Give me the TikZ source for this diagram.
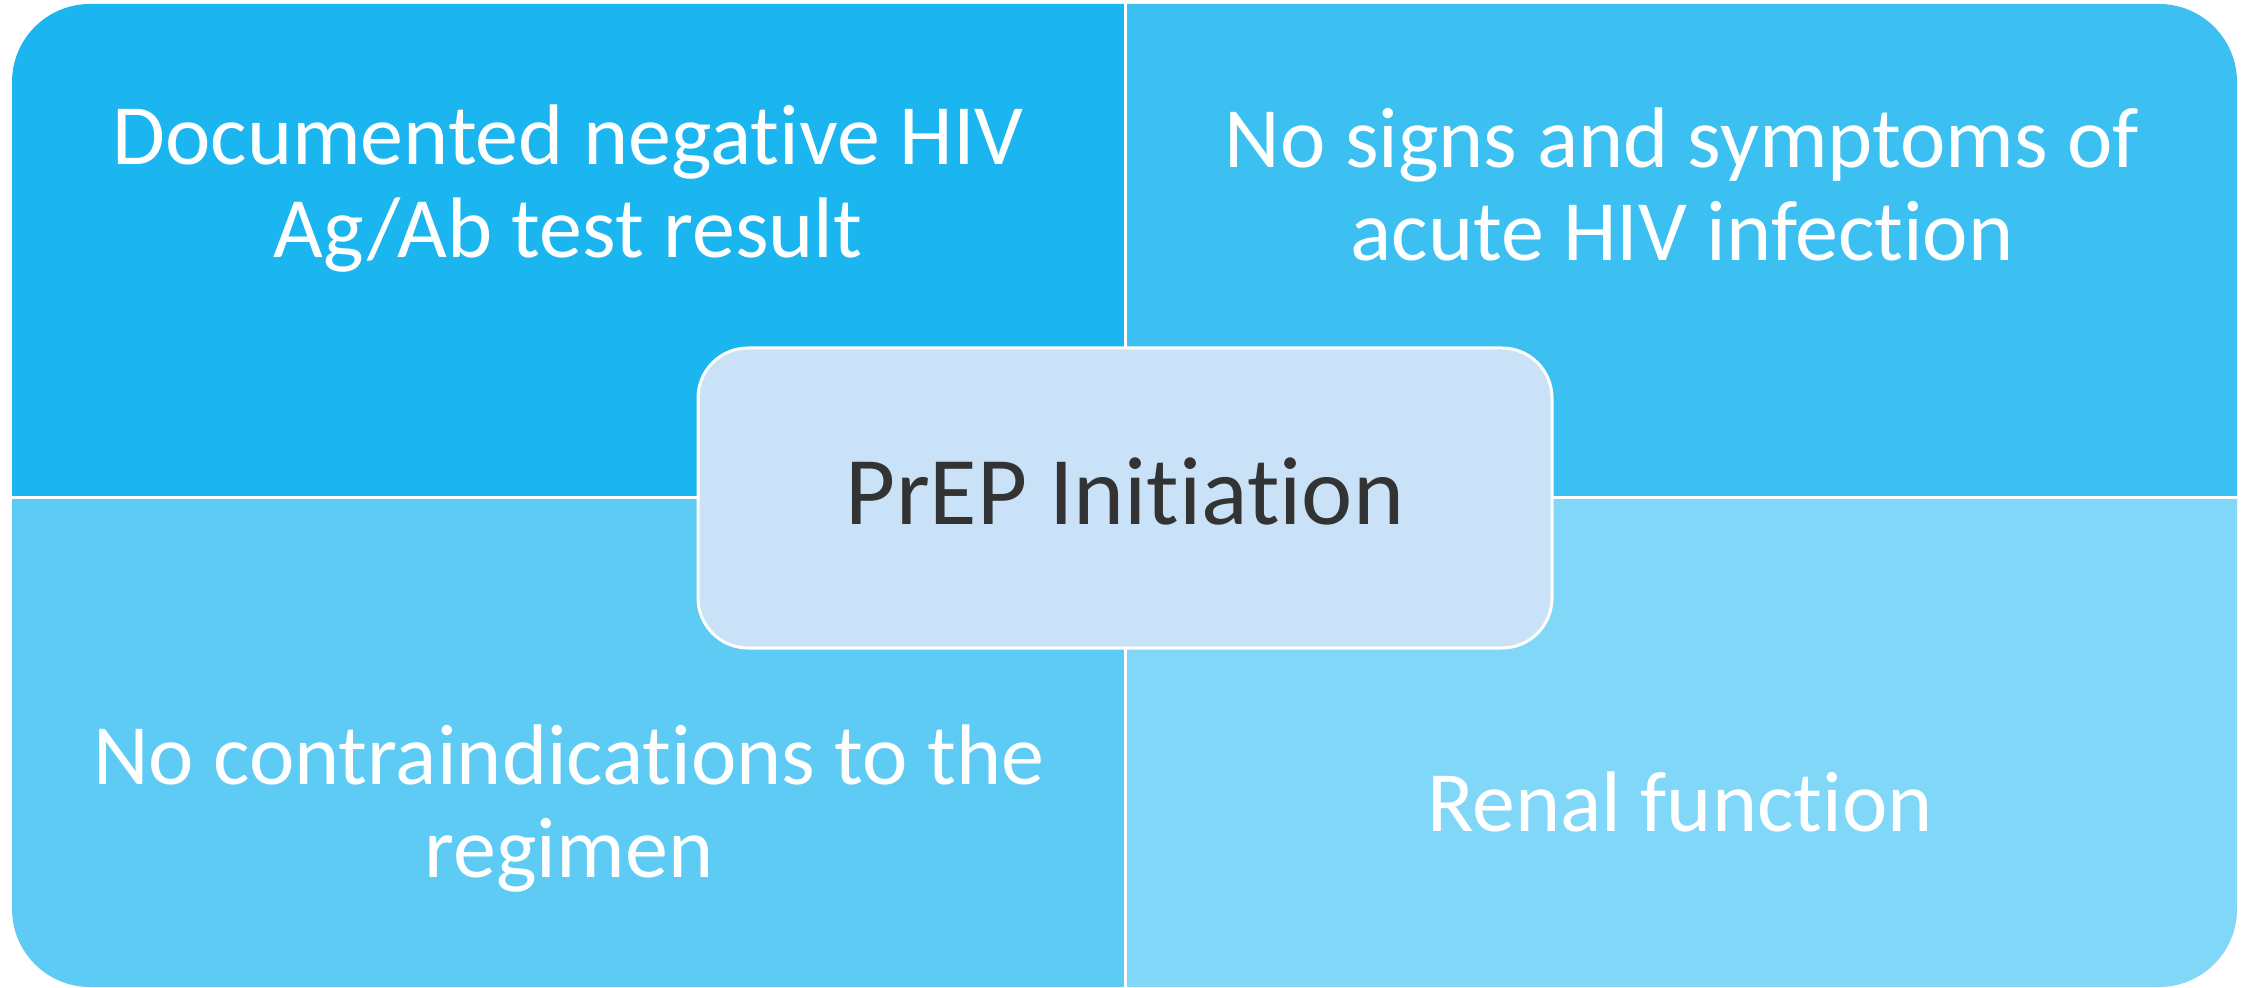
\documentclass[tikz,border=0pt]{standalone}
\usepackage{fontspec}
\setmainfont{Carlito}[RawFeature={-liga;-clig;-calt;-dlig;-rlig}]
\definecolor{quadTL}{HTML}{1BB5EF}
\definecolor{quadTR}{HTML}{3CC0F1}
\definecolor{quadBL}{HTML}{5ECBF4}
\definecolor{quadBR}{HTML}{81D7F8}
\definecolor{hubfill}{HTML}{CAE2F7}
\definecolor{ink}{HTML}{333333}
\begin{document}
\begin{tikzpicture}[x=0.5pt,y=-0.5pt,
  quadtext/.style={text=white, font=\fontsize{43}{46.5}\selectfont,
    align=center, anchor=base, inner sep=0pt},
  hubbox/.style={draw=white, line width=1.5pt, fill=hubfill,
    rounded corners=25pt, minimum width=427pt, minimum height=150pt,
    inner sep=0pt, text height=26pt, text depth=0pt,
    text=ink, font=\fontsize{48.5}{55}\selectfont},
  divider/.style={draw=white, line width=1.5pt}]
\useasboundingbox (0,0) rectangle (2247,988);
% four quadrants of one rounded block
\begin{scope}
  \clip (0,0) rectangle (1125.5,497.5);
  \fill[quadTL, rounded corners=39pt] (12,4) rectangle (2237,987);
\end{scope}
\begin{scope}
  \clip (1125.5,0) rectangle (2247,497.5);
  \fill[quadTR, rounded corners=39pt] (12,4) rectangle (2237,987);
\end{scope}
\begin{scope}
  \clip (0,497.5) rectangle (1125.5,988);
  \fill[quadBL, rounded corners=39pt] (12,4) rectangle (2237,987);
\end{scope}
\begin{scope}
  \clip (1125.5,497.5) rectangle (2247,988);
  \fill[quadBR, rounded corners=39pt] (12,4) rectangle (2237,987);
\end{scope}
% white separators
\coordinate (vtop) at (1125.5,4);
\coordinate (vbot) at (1125.5,987);
\coordinate (hleft) at (12,497.5);
\coordinate (hright) at (2237,497.5);
\draw[divider] (vtop) -- (vbot);
\draw[divider] (hleft) -- (hright);
% quadrant texts (anchored at the baseline of the last line)
\node[quadtext] (tl) at (568,258) {Documented negative HIV\\Ag/Ab test result};
\node[quadtext] (tr) at (1682,261) {No signs and symptoms of\\acute HIV infection};
\node[quadtext] (bl) at (569,877) {No contraindications to the\\regimen};
\node[quadtext] (br) at (1680,831) {Renal function};
% central hub
\node[hubbox] (hub) at (1125,498) {PrEP Initiation};
\end{tikzpicture}
\end{document}
